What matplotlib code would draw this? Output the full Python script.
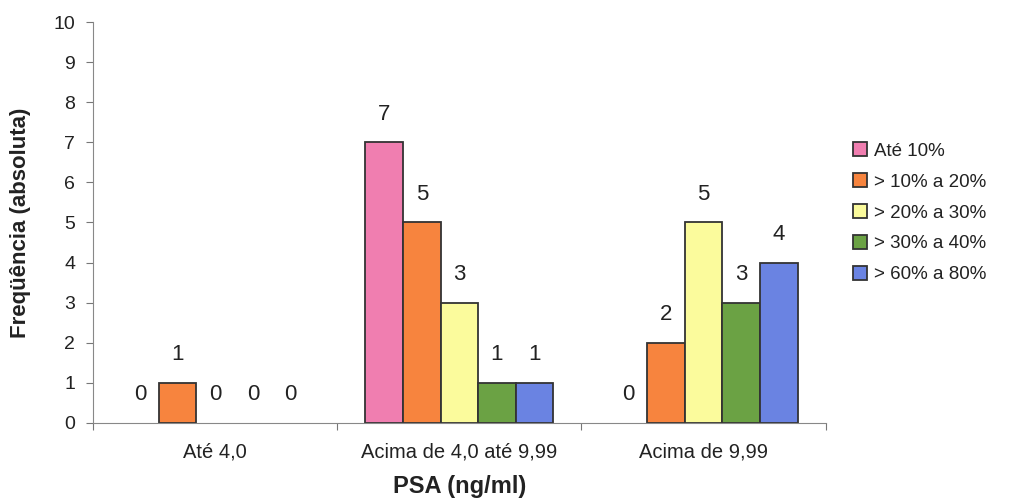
import matplotlib
matplotlib.use('Agg')
import matplotlib.pyplot as plt
from matplotlib.patches import Patch
import numpy as np

plt.rcParams['font.family'] = ['Liberation Sans', 'DejaVu Sans']

categories = ['Até 4,0', 'Acima de 4,0 até 9,99', 'Acima de 9,99']
series = ['Até 10%', '> 10% a 20%', '> 20% a 30%', '> 30% a 40%', '> 60% a 80%']
values = [
    [0, 7, 0],   # Até 10%
    [1, 5, 2],   # > 10% a 20%
    [0, 3, 5],   # > 20% a 30%
    [0, 1, 3],   # > 30% a 40%
    [0, 1, 4],   # > 60% a 80%
]
colors = ['#f07eb0', '#f7843e', '#fbfb9c', '#6ba244', '#6a83e2']

fig = plt.figure(figsize=(10.13, 5.01), dpi=100)
ax = fig.add_axes([0.092, 0.156, 0.723, 0.80])

x = np.arange(len(categories))
w = 0.154
for i, (name, vals) in enumerate(zip(series, values)):
    pos = x + (i - 2) * w
    # zero bars have no visible outline in the original
    edges = ['#333333' if v > 0 else 'none' for v in vals]
    ax.bar(pos, vals, width=w, color=colors[i], edgecolor=edges, linewidth=1.3, zorder=2)
    for p, v in zip(pos, vals):
        ax.text(p, v + 0.7, str(v), ha='center', va='center', fontsize=16, color='#222222')

ax.set_xlim(-0.5, 2.5)
ax.set_ylim(0, 10)
ax.set_yticks(range(0, 11))
ax.set_xticks([-0.5, 0.5, 1.5, 2.5], minor=False)
ax.set_xticklabels([])
ax.set_xticks(x, minor=True)
ax.set_xticklabels(categories, minor=True, fontsize=14.5, color='#222222')
ax.tick_params(axis='x', which='minor', length=0, pad=14)
ax.tick_params(axis='x', which='major', length=5, direction='out', color='#777777')
ax.tick_params(axis='y', length=5, direction='out', color='#777777', labelsize=14,
               labelcolor='#222222', pad=8)

for s in ['top', 'right']:
    ax.spines[s].set_visible(False)
for s in ['left', 'bottom']:
    ax.spines[s].set_color('#888888')

ax.set_ylabel('Freqüência (absoluta)', fontsize=16, fontweight='bold', labelpad=16, color='#222222')
ax.set_xlabel('PSA (ng/ml)', fontsize=17, fontweight='bold', labelpad=10, color='#222222')

handles = [Patch(facecolor=c, edgecolor='#333333', linewidth=1.3, label=s)
           for c, s in zip(colors, series)]
leg = ax.legend(handles=handles, loc='center left', bbox_to_anchor=(1.025, 0.524),
                frameon=False, fontsize=13.5, handlelength=0.75, handleheight=0.75,
                handletextpad=0.35, labelspacing=0.72, borderpad=0)
for t in leg.get_texts():
    t.set_color('#222222')

fig.savefig('out.png', dpi=100)
